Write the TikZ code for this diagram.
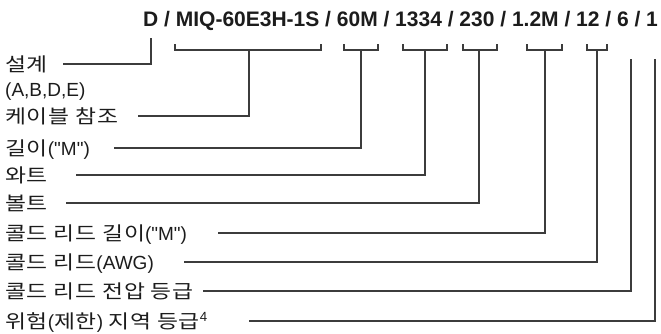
\documentclass[tikz,border=0pt]{standalone}
\usepackage{fontspec}
\setmainfont{Liberation Sans}[Ligatures=TeXOff]
\newfontfamily\krfont{Noto Sans CJK KR}[FakeStretch=1.2,LetterSpace=4]
\usepackage{tikz}
\usetikzlibrary{positioning,calc}
\definecolor{CodeInk}{HTML}{1C1C1C}
\definecolor{LineGray}{HTML}{3C3C3C}
\tikzset{
    % part number at the top
    code text/.style={
        inner sep=0pt,
        text=CodeInk,
        font=\fontsize{21}{24}\selectfont\bfseries
    },
    % field names on the left
    field label/.style={
        inner sep=0pt,
        anchor=west,
        text height=14pt,
        text depth=0pt,
        text=CodeInk,
        font=\fontsize{19}{22}\selectfont
    },
    bracket/.style={
        draw=LineGray,
        line width=1.1pt
    },
    leader/.style={
        draw=LineGray,
        line width=1.1pt
    }
}
\begin{document}
\begin{tikzpicture}[x=1pt,y=-1pt]
\useasboundingbox (0,0) rectangle (661,333);

\node[code text, anchor=base west] (code) at (143,26) {D / MIQ-60E3H-1S / 60M / 1334 / 230 / 1.2M / 12 / 6 / 1};

% brackets under the fields
\foreach \l/\r in {175/321, 344/378, 403/447, 463/497, 527/562, 587/607}
    \draw[bracket] (\l,44) -- (\l,50) -- (\r,50) -- (\r,44);

\coordinate (design) at (151,38);
\coordinate (cable) at (249,50);
\coordinate (length) at (361,50);
\coordinate (watt) at (425,50);
\coordinate (volt) at (479,50);
\coordinate (leadlen) at (545,50);
\coordinate (awg) at (597,50);
\coordinate (rating) at (631,59);
\coordinate (hazard) at (655,59);

\node[field label] (design lab) at (5,64) {{\krfont 설계}};
\node[field label] (design sub) at (5,89) {(A,B,D,E)};
\node[field label] (cable lab) at (5,116) {{\krfont 케이블 참조}};
\node[field label] (length lab) at (5,148) {{\krfont 길이}("M")};
\node[field label] (watt lab) at (5,175) {{\krfont 와트}};
\node[field label] (volt lab) at (5,203) {{\krfont 볼트}};
\node[field label] (leadlen lab) at (5,233) {{\krfont 콜드 리드 길이}("M")};
\node[field label] (awg lab) at (5,262) {{\krfont 콜드 리드}(AWG)};
\node[field label] (rating lab) at (5,291) {{\krfont 콜드 리드 전압 등급}};
\node[field label] (hazard lab) at (5,321) {{\krfont 위험}({\krfont 제한}) {\krfont 지역 등급}\textsuperscript{4}};

\draw[leader] (design lab.east -| 63,0) -| (design);
\draw[leader] (cable lab.east -| 138,0) -| (cable);
\draw[leader] (length lab.east -| 114,0) -| (length);
\draw[leader] (watt lab.east -| 76,0) -| (watt);
\draw[leader] (volt lab.east -| 66,0) -| (volt);
\draw[leader] (leadlen lab.east -| 218,0) -| (leadlen);
\draw[leader] (awg lab.east -| 184,0) -| (awg);
\draw[leader] (rating lab.east -| 203,0) -| (rating);
\draw[leader] (hazard lab.east -| 249,0) -| (hazard);
\end{tikzpicture}
\end{document}
